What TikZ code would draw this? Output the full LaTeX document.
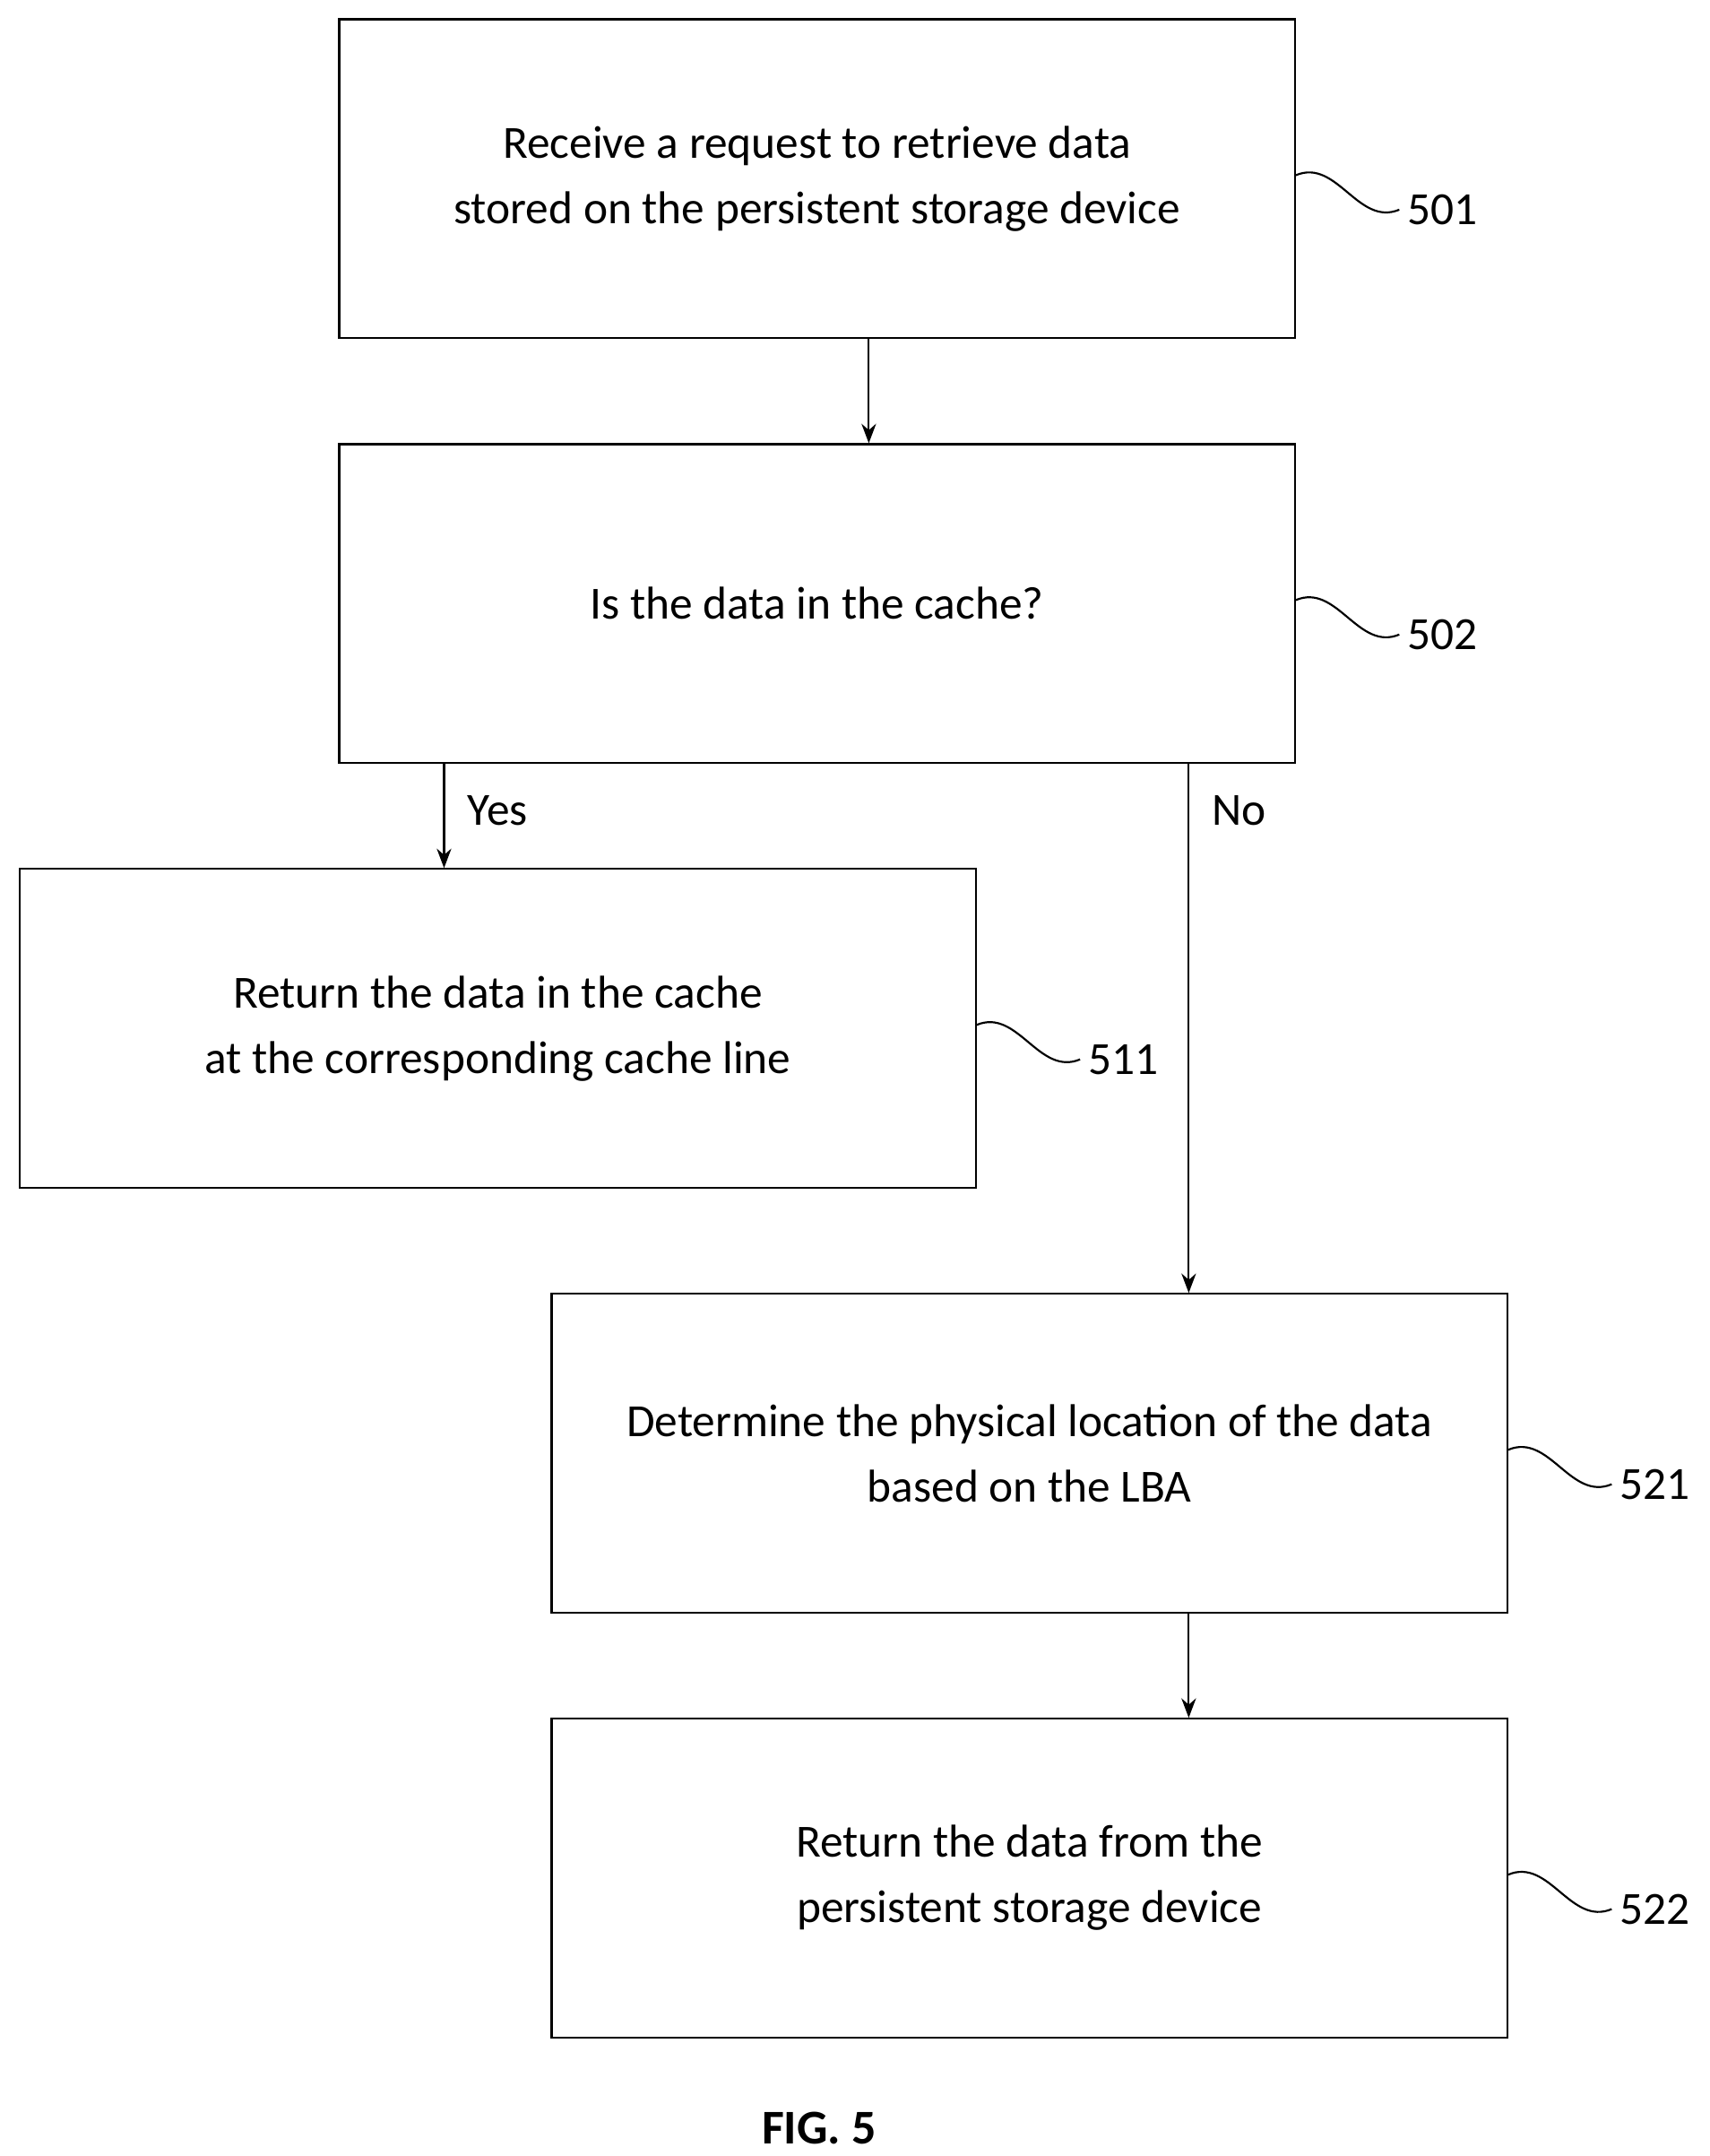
\documentclass[tikz,border=0pt]{standalone}
\usepackage{fontspec}
\setmainfont{Carlito}
\usetikzlibrary{arrows.meta, positioning}
\tikzset{
    stepbox/.style={draw, thick, minimum width=13.86cm, minimum height=4.62cm, align=center, font=\fontsize{19}{27}\selectfont},
    flow/.style={thick, -{Stealth[length=8pt,width=6pt]}},
    tag/.style={font=\fontsize{19}{23}\selectfont, anchor=west},
}
\newcommand{\leader}[3]{%
    \draw[thick] (#1.east) ++(0,0.05) .. controls +(0.6,0.25) and +(-0.6,-0.25) .. ++(1.5,-0.5) coordinate (#2);
    \node[tag] at (#2) {#3};
}
\begin{document}
\begin{tikzpicture}
    \useasboundingbox (0,0) rectangle (24.8,-31.26);

    % Boxes
    \node[stepbox] (b501) at (11.85,-2.59) {Receive a request to retrieve data\\stored on the persistent storage device};
    \node[stepbox] (b502) at (11.85,-8.75) {Is the data in the cache?};
    \node[stepbox] (b511) at (7.22,-14.91) {Return the data in the cache\\at the corresponding cache line};
    \node[stepbox] (b521) at (14.93,-21.07) {Determine the physical location of the data\\based on the LBA};
    \node[stepbox] (b522) at (14.93,-27.23) {Return the data from the\\persistent storage device};

    % Reference numerals
    \leader{b501}{l501}{501}
    \leader{b502}{l502}{502}
    \leader{b511}{l511}{511}
    \leader{b521}{l521}{521}
    \leader{b522}{l522}{522}

    % Connectors
    \coordinate (yes) at (6.44,-11.06);
    \coordinate (no) at (17.24,-11.06);
    \draw[flow] (b501.south -| 12.6,0) -- (b502.north -| 12.6,0);
    \draw[flow] (yes) -- (yes |- b511.north) node[pos=0.45, right=6pt, font=\fontsize{19}{23}\selectfont] {Yes};
    \draw[flow] (no) -- (no |- b521.north) node[pos=0.09, right=6pt, font=\fontsize{19}{23}\selectfont] {No};
    \draw[flow] (b521.south -| no) -- (b522.north -| no);

    % Caption
    \node[font=\fontsize{20}{24}\selectfont\bfseries] (fig) at (11.88,-30.86) {FIG. 5};
\end{tikzpicture}
\end{document}
